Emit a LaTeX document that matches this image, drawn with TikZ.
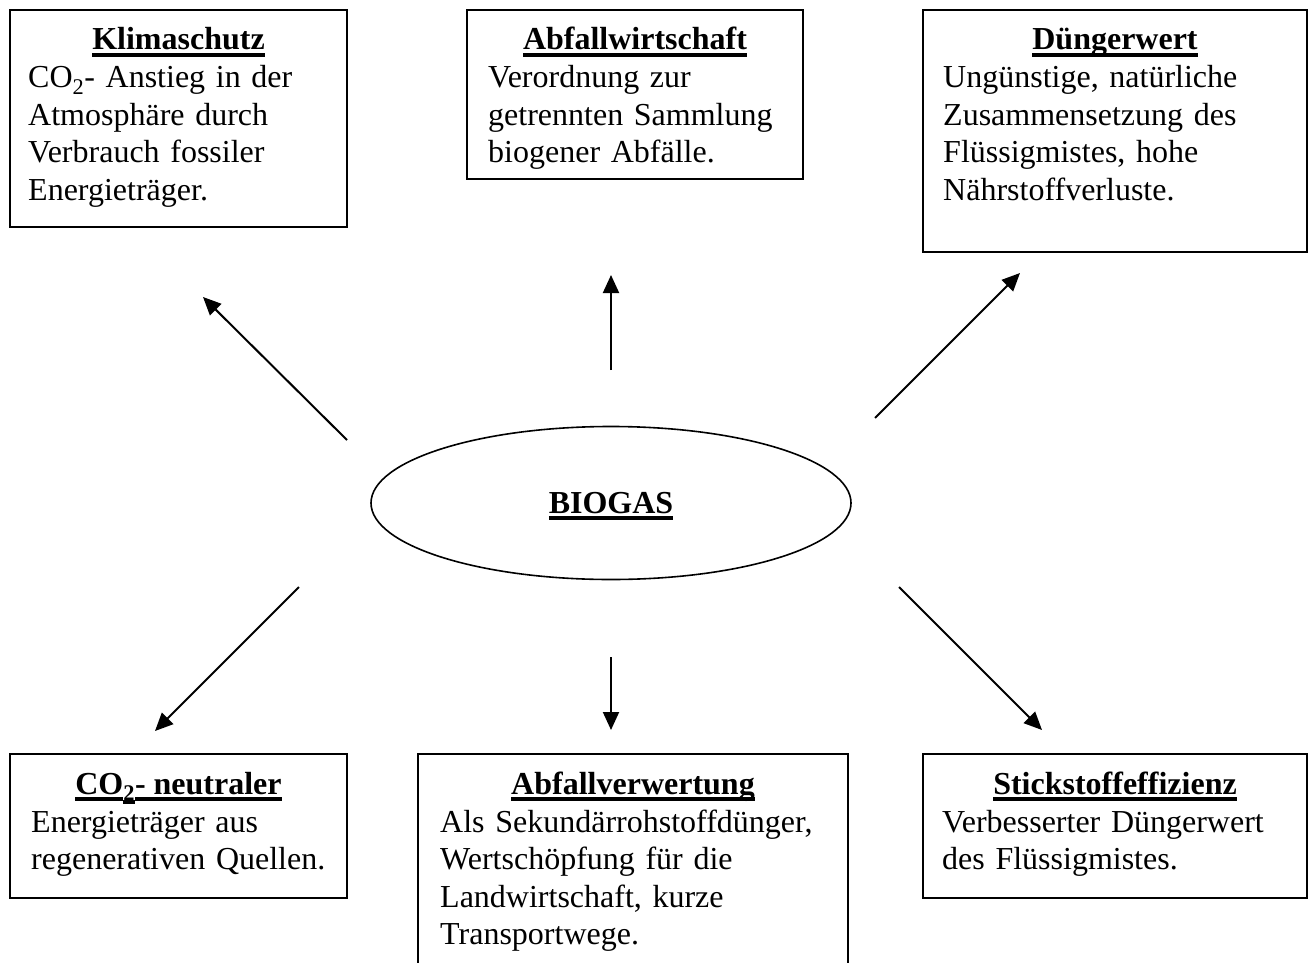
\documentclass[tikz,border=0pt]{standalone}
\usepackage{fontspec}
\setmainfont{Liberation Serif}
\usetikzlibrary{shapes.geometric,arrows.meta}
\newsavebox\ttlbox
\newcommand{\ulbox}[2]{\sbox\ttlbox{#2}\rlap{\rule[#1]{\wd\ttlbox}{4pt}}\usebox\ttlbox}
\newcommand{\ttl}[1]{{\bfseries\ulbox{-7pt}{#1}}}
\begin{document}
\begin{tikzpicture}[x=1pt,y=-1pt,
  box/.style={draw,line width=2pt,anchor=north west,inner sep=0pt,outer sep=0pt},
  title/.style={anchor=base,inner sep=0pt,font=\fontsize{32pt}{37.5pt}\selectfont},
  body/.style={anchor=base west,inner sep=0pt,align=left,text width=420pt,font=\fontsize{32pt}{37.5pt}\selectfont},
  arr/.style={line width=2pt,-{Triangle[length=18pt,width=16pt]}}]
\useasboundingbox (0,0) rectangle (1311,963);
\begin{scope}
\clip (0,0) rectangle (1311,963);
% boxes
\node[box,minimum width=337pt,minimum height=217pt] (klima) at (10,10) {};
\node[box,minimum width=336pt,minimum height=169pt] (abfw) at (467,10) {};
\node[box,minimum width=384pt,minimum height=242pt] (dung) at (923,10) {};
\node[box,minimum width=337pt,minimum height=144pt] (co2) at (10,754) {};
\node[box,minimum width=430pt,minimum height=240pt] (abfv) at (418,754) {};
\node[box,minimum width=384pt,minimum height=144pt] (stick) at (923,754) {};
\end{scope}
% ellipse
\node[ellipse,draw,line width=1.6pt,minimum width=480pt,minimum height=153pt,inner sep=0pt] (bio) at (611,503) {};
\node[title] (biot) at (611,513) {\ttl{BIOGAS}};
% titles
\node[title] (klimat) at (178.5,50) {\ttl{Klimaschutz}};
\node[title] (abfwt) at (635,50) {\ttl{Abfallwirtschaft}};
\node[title] (dungt) at (1115,50) {\ttl{Düngerwert}};
\node[title] (co2t) at (178.5,794) {{\bfseries\ulbox{-7pt}{CO}\ulbox{-10pt}{\textsubscript{2}}\ulbox{-7pt}{- neutraler}}};
\node[title] (abfvt) at (633,794) {\ttl{Abfallverwertung}};
\node[title] (stickt) at (1115,794) {\ttl{Stickstoffeffizienz}};
% bodies
\node[body] (klimab) at (28,88) {CO\textsubscript{2}- Anstieg in der\\Atmosphäre durch\\Verbrauch fossiler\\Energieträger.};
\node[body] (abfwb) at (488,88) {Verordnung zur\\getrennten Sammlung\\biogener Abfälle.};
\node[body] (dungb) at (943,88) {Ungünstige, natürliche\\Zusammensetzung des\\Flüssigmistes, hohe\\Nährstoffverluste.};
\node[body] (co2b) at (31,832) {Energieträger aus\\regenerativen Quellen.};
\node[body] (abfvb) at (440,832) {Als Sekundärrohstoffdünger,\\Wertschöpfung für die\\Landwirtschaft, kurze\\Transportwege.};
\node[body] (stickb) at (942,832) {Verbesserter Düngerwert\\des Flüssigmistes.};
% arrow end points
\coordinate (a1s) at (347,440); \coordinate (a1e) at (203,297);
\coordinate (a2s) at (611,370); \coordinate (a2e) at (611,275);
\coordinate (a3s) at (875,418); \coordinate (a3e) at (1020,273);
\coordinate (a4s) at (299,587); \coordinate (a4e) at (155,731);
\coordinate (a5s) at (611,657); \coordinate (a5e) at (611,730);
\coordinate (a6s) at (899,587); \coordinate (a6e) at (1042,730);
\draw[arr] (a1s) -- (a1e);
\draw[arr] (a2s) -- (a2e);
\draw[arr] (a3s) -- (a3e);
\draw[arr] (a4s) -- (a4e);
\draw[arr] (a5s) -- (a5e);
\draw[arr] (a6s) -- (a6e);
\end{tikzpicture}
\end{document}
